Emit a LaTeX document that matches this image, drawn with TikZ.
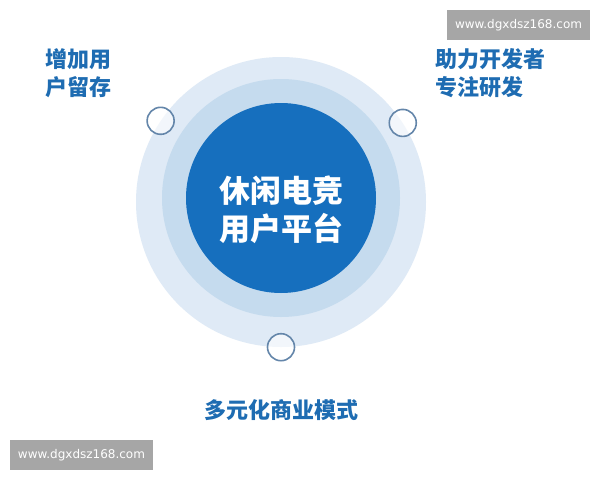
\documentclass[tikz,border=0pt]{standalone}
\usepackage{fontspec}
\newfontfamily\cjk{Noto Sans CJK SC}
\setsansfont{DejaVu Sans}
\usetikzlibrary{positioning}
\definecolor{outerband}{RGB}{223,234,246}
\definecolor{midband}{RGB}{197,219,238}
\definecolor{hubblue}{RGB}{22,111,190}
\definecolor{goalblue}{RGB}{30,108,178}
\definecolor{ringline}{RGB}{100,134,170}
\definecolor{stampgray}{RGB}{166,166,166}
\tikzset{
  band/.style  = {circle, inner sep=0pt},
  hub/.style   = {band, fill=hubblue},
  ring/.style  = {circle, draw=ringline, line width=1.6pt, fill=white, fill opacity=0.6,
                  minimum size=27pt, inner sep=0pt},
  goal/.style  = {text=goalblue, font=\cjk\bfseries\fontsize{22}{28}\selectfont,
                  align=left, inner sep=0pt},
  stamp/.style = {fill=stampgray, text=white, font=\sffamily\fontsize{12}{12}\selectfont,
                  minimum width=143pt, minimum height=30pt, inner sep=0pt}
}
\begin{document}
\begin{tikzpicture}[x=1pt,y=-1pt]
\useasboundingbox (0,0) rectangle (600,480);
\fill[white] (0,0) rectangle (600,480);
% circles
\node[band, fill=outerband, minimum size=290pt] (outer) at (281,202) {};
\node[band, fill=midband, minimum size=238pt] (mid) at (281,198) {};
\node[hub, minimum size=190pt] (hub) at (281,198) {};
\node[text=white, font=\cjk\bfseries\fontsize{31}{38}\selectfont, align=center,
      inner sep=0pt] (title) at (281,210) {休闲电竞\\用户平台};
% small rings on the rim
\node[ring] (ringa) at (outer.146) {};
\node[ring] (ringb) at (outer.33) {};
\node[ring] (ringc) at (outer.270) {};
% texts
\node[goal, anchor=west] (retain) at (45,73) {增加用\\户留存};
\node[goal, anchor=west] (devs) at (435,73) {助力开发者\\专注研发};
\node[goal] (biz) at (281,410) {多元化商业模式};
% watermarks
\node[stamp] (marka) at (518.5,25) {www.dgxdsz168.com};
\node[stamp] (markb) at (81.5,455) {www.dgxdsz168.com};
\end{tikzpicture}
\end{document}
